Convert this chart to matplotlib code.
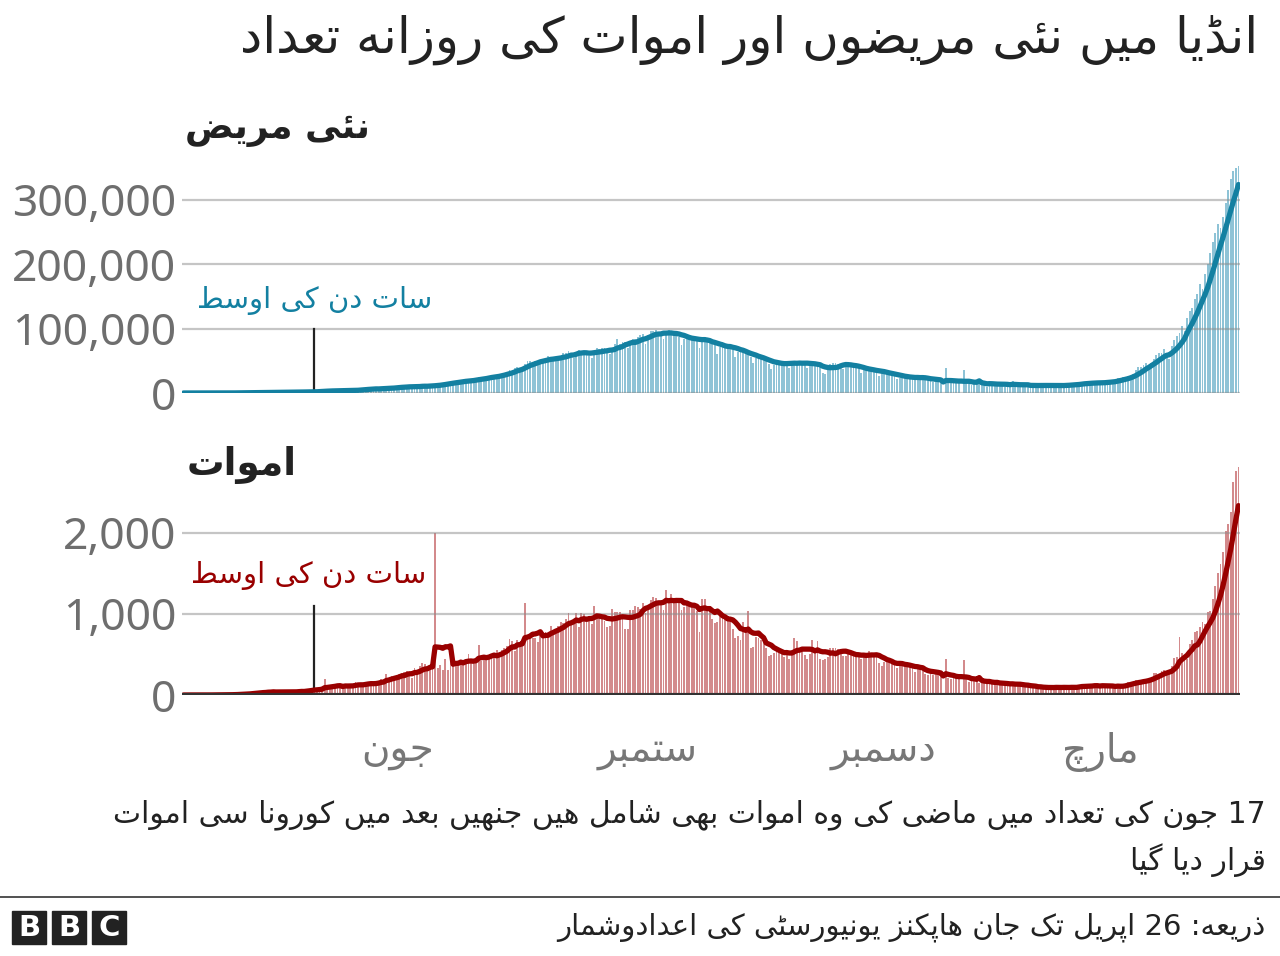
import re
import matplotlib
matplotlib.use("Agg")
import matplotlib.pyplot as plt
import matplotlib.dates as mdates
import matplotlib.transforms as mtransforms
from matplotlib.patches import Rectangle
from matplotlib.ticker import FuncFormatter
import pandas as pd

# Daily new cases (one list per month, last day = 26 April 2021).
cases_2020_03 = [12, 11, 9, 20, 11, 26, 23, 14, 38, 50, 86, 66, 103, 37, 121, 70, 160, 100, 112, 227, 146]
cases_2020_04 = [437, 485, 560, 579, 609, 484, 573, 565, 813, 871, 854, 758, 1243, 1031, 886, 1061, 922,
                 1371, 1580, 1239, 1537, 1292, 1667, 1408, 1835, 1607, 1568, 1902, 1705, 1801]
cases_2020_05 = [2396, 2564, 2952, 3656, 2971, 3602, 3344, 3339, 3175, 4311, 3592, 3562, 3726, 3991, 3808,
                 4794, 5050, 4628, 6147, 5553, 6198, 6568, 6629, 7111, 6414, 5843, 7293, 7300, 8105, 8336, 8782]
cases_2020_06 = [7761, 8821, 9633, 9889, 9471, 10438, 10864, 8442, 9987, 9985, 10956, 11929, 11502, 10667,
                 10032, 10974, 12881, 13586, 14516, 15413, 14821, 14933, 15968, 16922, 17296, 18552, 19906,
                 19459, 18522, 18653]
cases_2020_07 = [19148, 20903, 22771, 24850, 24248, 22252, 22752, 24879, 26506, 27114, 28637, 28701, 28498,
                 29429, 32695, 34956, 34884, 38902, 40425, 37148, 37724, 45720, 49310, 48916, 48661, 49931,
                 47704, 48513, 52123, 55078, 57118]
cases_2020_08 = [54736, 52972, 52050, 52509, 56282, 62538, 61537, 64399, 62064, 53601, 60963, 66999, 64553,
                 65002, 63490, 57981, 55079, 64531, 69652, 68898, 69878, 69239, 61408, 60975, 67151, 75760,
                 84000, 76472, 78761, 78512, 69921]
cases_2020_09 = [78357, 83883, 83341, 86432, 90632, 90802, 75809, 89706, 95735, 96551, 97570, 94372, 92071,
                 83809, 90123, 97894, 96424, 93337, 92605, 86961, 75083, 83347, 86508, 86052, 85362, 88600,
                 82170, 70589, 80472, 86821]
cases_2020_10 = [81484, 79476, 75829, 74442, 61267, 72049, 78524, 70496, 73272, 74383, 66732, 55342, 63509,
                 67708, 63371, 62212, 61871, 55722, 46790, 54044, 55839, 54366, 53370, 50129, 45148, 36469,
                 43893, 49881, 48648, 48268, 46963]
cases_2020_11 = [45231, 38310, 46253, 50210, 47638, 50357, 45674, 45903, 38073, 44281, 47905, 44879, 44878,
                 41100, 30548, 29164, 38617, 45576, 45882, 46232, 45209, 44059, 37975, 44376, 44489, 43082,
                 41322, 41810, 38772, 31118]
cases_2020_12 = [36604, 35551, 36595, 36652, 36011, 32981, 26567, 32080, 31521, 29398, 30006, 30254, 27071,
                 22065, 24010, 26382, 22890, 25153, 26624, 24337, 19556, 23950, 24712, 23067, 23068, 22272,
                 18732, 16432, 20550, 21822, 20035]
cases_2021_01 = [0, 38200, 18177, 16375, 18088, 20346, 18139, 0, 36000, 18645, 16311, 12584, 15968, 16946,
                 15590, 15158, 13788, 10050, 13823, 15223, 14545, 14256, 14849, 13203, 9102, 12689, 11666,
                 18855, 13083, 13052, 11427]
cases_2021_02 = [8635, 11039, 12899, 12408, 12591, 11713, 12059, 9110, 11067, 12923, 12143, 12194, 11427,
                 11649, 9121, 11610, 12881, 13193, 13993, 13993, 14264, 10584, 13742, 16738, 16577, 16488,
                 16752, 15510]
cases_2021_03 = [12286, 14989, 17407, 16838, 18327, 18711, 18599, 15388, 17921, 22854, 23285, 24882, 25320,
                 26291, 24492, 28903, 35871, 39726, 40953, 43846, 46951, 40715, 47262, 53476, 59118, 62258,
                 62714, 68020, 56211, 53480, 72330]
cases_2021_04 = [81466, 89129, 93249, 103558, 96982, 115736, 126789, 131968, 145384, 152879, 168912, 161736,
                 184372, 200739, 217353, 234692, 249000, 261500, 256800, 273810, 295041, 314835, 332730,
                 345147, 349691, 352991]

# Daily deaths
deaths_2020_03 = [0, 1, 1, 0, 0, 0, 1, 0, 1, 1, 0, 3, 2, 1, 1, 6, 3, 5, 5, 5, 12]
deaths_2020_04 = [3, 15, 11, 22, 17, 18, 35, 20, 39, 42, 35, 30, 43, 44, 40, 27, 44, 36, 31, 53, 36, 39, 37,
                  41, 56, 46, 51, 60, 69, 71]
deaths_2020_05 = [72, 77, 68, 83, 194, 89, 103, 96, 116, 111, 97, 122, 134, 100, 103, 120, 157, 134, 132, 134,
                  140, 137, 147, 154, 146, 170, 194, 175, 265, 193, 230]
deaths_2020_06 = [204, 230, 259, 273, 286, 294, 287, 206, 331, 279, 357, 396, 386, 311, 325, 380, 2003, 336,
                  375, 306, 445, 312, 465, 418, 407, 384, 410, 380, 417, 507]
deaths_2020_07 = [434, 380, 442, 613, 425, 467, 465, 482, 475, 519, 551, 500, 553, 582, 606, 687, 671, 543,
                  681, 587, 648, 1130, 740, 757, 708, 705, 654, 768, 775, 779, 764]
deaths_2020_08 = [853, 803, 771, 857, 904, 886, 933, 1007, 871, 871, 1007, 834, 1007, 996, 944, 941, 876,
                  1092, 977, 983, 945, 913, 836, 848, 1059, 1023, 1021, 1021, 948, 819, 819]
deaths_2020_09 = [1045, 1043, 1096, 1089, 1065, 1133, 1016, 1115, 1172, 1209, 1201, 1114, 1136, 1054, 1290,
                  1132, 1247, 1174, 1133, 1130, 1053, 1085, 1129, 1141, 1089, 1124, 1039, 776, 1179, 1181]
deaths_2020_10 = [1069, 1095, 940, 884, 903, 986, 971, 964, 926, 918, 816, 706, 730, 680, 895, 837, 1033, 579,
                  587, 717, 706, 680, 650, 578, 480, 488, 517, 587, 563, 551, 470]
deaths_2020_11 = [490, 449, 514, 704, 670, 577, 559, 490, 448, 512, 673, 547, 670, 447, 435, 449, 474, 584,
                  585, 584, 562, 511, 480, 480, 524, 516, 496, 485, 496, 443]
deaths_2020_12 = [482, 501, 540, 512, 482, 511, 391, 355, 402, 413, 442, 391, 391, 336, 355, 387, 347, 412,
                  347, 333, 279, 336, 333, 312, 263, 251, 279, 251, 299, 299, 264]
deaths_2021_01 = [0, 450, 214, 201, 264, 222, 234, 0, 430, 202, 161, 167, 202, 191, 151, 181, 145, 137, 162,
                  151, 163, 151, 131, 131, 127, 137, 123, 163, 127, 125, 127]
deaths_2021_02 = [94, 107, 107, 120, 107, 101, 78, 84, 78, 94, 108, 103, 101, 90, 78, 77, 101, 104, 101, 110,
                  89, 78, 110, 138, 113, 117, 113, 106]
deaths_2021_03 = [106, 112, 108, 138, 113, 108, 100, 97, 77, 133, 126, 117, 140, 161, 161, 131, 188, 172, 154,
                  188, 197, 212, 199, 275, 275, 257, 291, 312, 291, 271, 354]
deaths_2021_04 = [459, 469, 714, 513, 478, 446, 630, 684, 780, 794, 839, 904, 879, 1027, 1038, 1185, 1341,
                  1501, 1619, 1761, 2023, 2104, 2263, 2624, 2767, 2812]

last_day = "2021-04-26"
note_day = "2020-05-01"
month_ticks = ["2020-06-01", "2020-09-01", "2020-12-01", "2021-03-01"]
month_names = ["جون", "ستمبر", "دسمبر", "مارچ"]
case_ticks = [0, 100000, 200000, 300000]
death_ticks = [0, 1000, 2000]

title = "انڈیا میں نئے مریضوں اور اموات کی روزانہ تعداد"
cases_title = "نئے مریض"
deaths_title = "اموات"
avg_label = "سات دن کی اوسط"
note_1 = "17 جون کی تعداد میں ماضی کی وہ اموات بھی شامل ہیں جنھیں بعد میں کورونا سے اموات"
note_2 = "قرار دیا گیا"
source = "ذریعہ: 26 اپریل تک جان ہاپکنز یونیورسٹی کے اعدادوشمار"

# matplotlib has no Arabic shaping, so pick the joined letter forms by hand.
# No installed font has heh-goal or yeh-barree forms, so the nearest
# DejaVu shapes (heh, farsi yeh) stand in for them.
FORMS = {
    0x0627: (0xFE8D, 0xFE8E, None, None), 0x0628: (0xFE8F, 0xFE90, 0xFE91, 0xFE92),
    0x067E: (0xFB56, 0xFB57, 0xFB58, 0xFB59), 0x062A: (0xFE95, 0xFE96, 0xFE97, 0xFE98),
    0x0679: (0xFB66, 0xFB67, 0xFB68, 0xFB69), 0x062C: (0xFE9D, 0xFE9E, 0xFE9F, 0xFEA0),
    0x0686: (0xFB7A, 0xFB7B, 0xFB7C, 0xFB7D), 0x062F: (0xFEA9, 0xFEAA, None, None),
    0x0688: (0xFB88, 0xFB89, None, None), 0x0630: (0xFEAB, 0xFEAC, None, None),
    0x0631: (0xFEAD, 0xFEAE, None, None), 0x0632: (0xFEAF, 0xFEB0, None, None),
    0x0633: (0xFEB1, 0xFEB2, 0xFEB3, 0xFEB4), 0x0634: (0xFEB5, 0xFEB6, 0xFEB7, 0xFEB8),
    0x0636: (0xFEBD, 0xFEBE, 0xFEBF, 0xFEC0), 0x0637: (0xFEC1, 0xFEC2, 0xFEC3, 0xFEC4),
    0x0639: (0xFEC9, 0xFECA, 0xFECB, 0xFECC), 0x0642: (0xFED5, 0xFED6, 0xFED7, 0xFED8),
    0x06A9: (0xFB8E, 0xFB8F, 0xFB90, 0xFB91), 0x06AF: (0xFB92, 0xFB93, 0xFB94, 0xFB95),
    0x0644: (0xFEDD, 0xFEDE, 0xFEDF, 0xFEE0), 0x0645: (0xFEE1, 0xFEE2, 0xFEE3, 0xFEE4),
    0x0646: (0xFEE5, 0xFEE6, 0xFEE7, 0xFEE8), 0x06BA: (0xFB9E, 0xFB9F, 0xFEE7, 0xFEE8),
    0x0648: (0xFEED, 0xFEEE, None, None), 0x06C1: (0xFEE9, 0xFEEA, 0xFEEB, 0xFEEC),
    0x06BE: (0xFBAA, 0xFBAB, 0xFBAC, 0xFBAD), 0x06CC: (0xFBFC, 0xFBFD, 0xFBFE, 0xFBFF),
    0x0626: (0xFE89, 0xFE8A, 0xFE8B, 0xFE8C), 0x06D2: (0xFBFC, 0xFBFD, None, None),
}
NORMAL = {0x0643: 0x06A9, 0x064A: 0x06CC, 0x0649: 0x06CC, 0x0647: 0x06C1}


def rtl(text):
    cps = [NORMAL.get(ord(c), ord(c)) for c in text]
    out = []
    for i, cp in enumerate(cps):
        if cp not in FORMS:
            out.append(chr(cp))
            continue
        iso, fin, ini, med = FORMS[cp]
        prev = cps[i - 1] if i > 0 else None
        nxt = cps[i + 1] if i + 1 < len(cps) else None
        join_prev = prev in FORMS and FORMS[prev][2] is not None
        join_next = ini is not None and nxt in FORMS
        if join_prev and join_next:
            out.append(chr(med))
        elif join_prev:
            out.append(chr(fin))
        elif join_next:
            out.append(chr(ini))
        else:
            out.append(chr(iso))
    shaped = "".join(out)
    runs = re.findall(r"[0-9]+|[^0-9]+", shaped)
    return "".join(r if r[0].isdigit() else r[::-1] for r in reversed(runs))


cases = (cases_2020_03 + cases_2020_04 + cases_2020_05 + cases_2020_06 + cases_2020_07 + cases_2020_08
         + cases_2020_09 + cases_2020_10 + cases_2020_11 + cases_2020_12 + cases_2021_01 + cases_2021_02
         + cases_2021_03 + cases_2021_04)
deaths = (deaths_2020_03 + deaths_2020_04 + deaths_2020_05 + deaths_2020_06 + deaths_2020_07
          + deaths_2020_08 + deaths_2020_09 + deaths_2020_10 + deaths_2020_11 + deaths_2020_12
          + deaths_2021_01 + deaths_2021_02 + deaths_2021_03 + deaths_2021_04)

cases_s = pd.Series(cases, index=pd.date_range(end=last_day, periods=len(cases)))
deaths_s = pd.Series(deaths, index=pd.date_range(end=last_day, periods=len(deaths)))
cases_avg = cases_s.rolling(7, min_periods=1).mean()
deaths_avg = deaths_s.rolling(7, min_periods=1).mean()

W, H = 1280, 956
fig = plt.figure(figsize=(W / 100, H / 100), dpi=100)


def fx(x):
    return x / W


def fy(y):
    return 1 - y / H


ur = "DejaVu Sans"
num_font = "Noto Sans"
x0 = mdates.date2num(min(cases_s.index[0], deaths_s.index[0])) - 0.6
x1 = mdates.date2num(pd.Timestamp(last_day)) + 0.6

panels = [
    (cases_s, cases_avg, case_ticks, 360000, 393, 161, "#8ec3d6", "#1380a1", 100000, 144000, 0),
    (deaths_s, deaths_avg, death_ticks, 2850, 695, 464, "#d38a8c", "#990000", 1100, 1480, -6),
]
axes = []
for s, avg, ticks, top, ybot, ytop, bar_c, line_c, note_top, label_y, label_dx in panels:
    ax = fig.add_axes([fx(182), fy(ybot), fx(1240) - fx(182), fy(ytop) - fy(ybot)])
    xs = mdates.date2num(s.index)
    ax.bar(xs, s.values, width=0.72, color=bar_c, linewidth=0, zorder=2)
    for t in ticks:
        ax.axhline(t, color="#8c8c8c", alpha=0.5, lw=1.6, zorder=2.5)
    ax.plot(mdates.date2num(avg.index), avg.values, color=line_c, lw=3.8, zorder=4,
            solid_capstyle="round", solid_joinstyle="round")
    nd = mdates.date2num(pd.Timestamp(note_day))
    ax.plot([nd, nd], [avg[note_day], note_top], color="#222222", lw=1.6, zorder=3)
    off = mtransforms.ScaledTranslation(label_dx / 100, 0, fig.dpi_scale_trans)
    ax.text(nd, label_y, rtl(avg_label), color=line_c, fontsize=21, family=ur,
            ha="center", va="center", transform=ax.transData + off)
    ax.set_xlim(x0, x1)
    ax.set_ylim(0, top)
    ax.set_yticks(ticks)
    ax.yaxis.set_major_formatter(FuncFormatter(lambda v, p: f"{int(v):,}"))
    ax.tick_params(axis="y", length=0, pad=4, labelsize=32, labelcolor="#6e6e6e")
    for lab in ax.get_yticklabels():
        lab.set_fontfamily(num_font)
    for sp in ax.spines.values():
        sp.set_visible(False)
    ax.set_facecolor("none")
    axes.append(ax)

ax1, ax2 = axes
ax1.set_xticks([])
ax2.axhline(0, color="#333333", lw=3, zorder=5)
ax2.set_xticks(mdates.date2num(pd.to_datetime(month_ticks)))
ax2.set_xticklabels([rtl(m) for m in month_names], fontsize=28, family=ur, color="#777777", ha="left")
ax2.tick_params(axis="x", length=0, pad=27)
shift = mtransforms.ScaledTranslation(-33 / 100, 0, fig.dpi_scale_trans)
for lab in ax2.get_xticklabels():
    lab.set_transform(lab.get_transform() + shift)

fig.text(fx(1258), fy(40), rtl(title), ha="right", va="center", fontsize=36, family=ur, color="#222222")
fig.text(fx(185), fy(130), rtl(cases_title), ha="left", va="center", fontsize=26, family=ur,
         weight="bold", color="#222222")
fig.text(fx(187), fy(465), rtl(deaths_title), ha="left", va="center", fontsize=27, family=ur,
         weight="bold", color="#222222")
fig.text(fx(1266), fy(815), rtl(note_1), ha="right", va="center", fontsize=21.5, family=ur, color="#222222")
fig.text(fx(1266), fy(860), rtl(note_2), ha="right", va="center", fontsize=21.5, family=ur, color="#222222")

fig.add_artist(plt.Line2D([0, 1], [fy(897), fy(897)], color="#333333", lw=1.2))
for i, letter in enumerate("BBC"):
    left = 12 + i * 40
    fig.add_artist(Rectangle((fx(left), fy(944)), fx(34), fy(911) - fy(944), color="#222222"))
    fig.text(fx(left + 17), fy(928), letter, ha="center", va="center", fontsize=21,
             weight="bold", color="white", family="DejaVu Sans")
fig.text(fx(1265), fy(927), rtl(source), ha="right", va="center", fontsize=21, family=ur, color="#222222")

fig.savefig("out.png", dpi=100)
